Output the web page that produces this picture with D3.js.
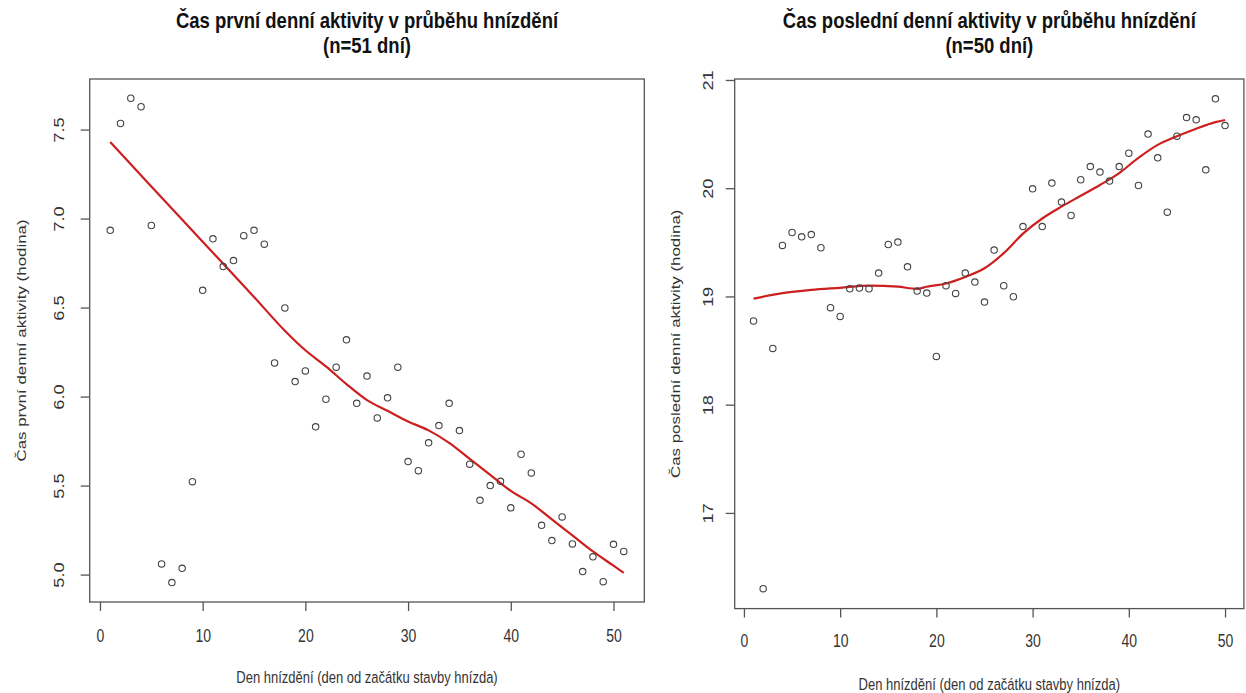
<!DOCTYPE html>
<html><head><meta charset="utf-8">
<script src="https://cdn.jsdelivr.net/npm/d3@7"></script>
<style>
html,body{margin:0;padding:0;background:#fff;}
svg{display:block;font-family:"Liberation Sans",Arial,sans-serif;}
</style></head>
<body><svg id="c" width="1246" height="693"></svg>
<script>
// ---------- data ----------
const dayA = d3.range(1, 52);
const firstAct = [6.934,7.534,7.676,7.628,6.961,5.060,4.955,5.035,5.522,6.597,
  6.886,6.730,6.764,6.904,6.934,6.856,6.189,6.498,6.084,6.144,
  5.830,5.985,6.165,6.319,5.962,6.115,5.880,5.993,6.165,5.635,
  5.584,5.740,5.837,5.962,5.809,5.620,5.417,5.500,5.524,5.375,
  5.676,5.571,5.277,5.191,5.324,5.172,5.017,5.100,4.960,5.170,5.130];
const smoothA_x = [1,5,10,15,18,20,22,24,26,28,30,32,34,36,38,40,42,44,46,48,50,51];
const smoothA_y = [7.43,7.18,6.87,6.56,6.37,6.26,6.17,6.07,5.98,5.92,5.86,5.81,5.74,5.65,5.56,5.47,5.40,5.31,5.22,5.13,5.05,5.01];

const dayB = d3.range(1, 51);
const lastAct = [18.773,16.30,18.52,19.471,19.591,19.551,19.572,19.450,18.896,18.815,
  19.071,19.078,19.071,19.216,19.480,19.502,19.274,19.050,19.031,18.446,
  19.099,19.028,19.216,19.133,18.948,19.428,19.099,18.997,19.646,19.994,
  19.646,20.047,19.872,19.748,20.078,20.200,20.149,20.066,20.200,20.324,
  20.025,20.500,20.281,19.779,20.481,20.653,20.632,20.170,20.826,20.579];
const smoothB_x = [1,4,7,10,13,16,18,19,21,23,25,27,29,31,33,35,37,39,41,43,45,47,49,50];
const smoothB_y = [18.98,19.03,19.06,19.08,19.10,19.09,19.07,19.09,19.12,19.18,19.26,19.40,19.58,19.72,19.83,19.93,20.03,20.14,20.28,20.40,20.48,20.55,20.61,20.63];

const xTicksA = [0,10,20,30,40,50];
const yTicksA = [5.0,5.5,6.0,6.5,7.0,7.5];
const xTicksB = [0,10,20,30,40,50];
const yTicksB = [17,18,19,20,21];

const titlesA = ["Čas první denní aktivity v průběhu hnízdění","(n=51 dní)"];
const titlesB = ["Čas poslední denní aktivity v průběhu hnízdění","(n=50 dní)"];
const xLabel = "Den hnízdění (den od začátku stavby hnízda)";
const yLabelA = "Čas první denní aktivity (hodina)";
const yLabelB = "Čas poslední denní aktivity (hodina)";

// ---------- drawing ----------
const svg = d3.select("#c");
const axisCol = "#555";
const textCol = "#333";
const S = 1.3;   // vertical stretch of the original picture's lettering

function panel(o) {
  const g = svg.append("g");
  const x = d3.scaleLinear().domain(o.xDom).range([o.left, o.right]);
  const y = d3.scaleLinear().domain(o.yDom).range([o.bottom, o.top]);

  // box
  g.append("rect").attr("x", o.left).attr("y", o.top)
    .attr("width", o.right - o.left).attr("height", o.bottom - o.top)
    .attr("fill", "none").attr("stroke", axisCol).attr("stroke-width", 1.3);

  // x axis
  const xa = g.append("g").attr("transform", `translate(0,${o.bottom})`)
    .call(d3.axisBottom(x).tickValues(o.xTicks).tickSize(9).tickFormat(d3.format("d")));
  xa.select(".domain").remove();
  xa.selectAll("line").attr("stroke", axisCol).attr("stroke-width", 1.3);
  xa.selectAll("text").attr("fill", textCol).style("font-size", "14px")
    .attr("y", 0).attr("dy", null)
    .attr("transform", `translate(0,${o.xTickOff}) scale(1,${S})`);

  // y axis
  const ya = g.append("g").attr("transform", `translate(${o.left},0)`)
    .call(d3.axisLeft(y).tickValues(o.yTicks).tickSize(9).tickFormat(o.yFmt));
  ya.select(".domain").remove();
  ya.selectAll("line").attr("stroke", axisCol).attr("stroke-width", 1.3);
  ya.selectAll("text").attr("fill", textCol).style("font-size", "14px")
    .attr("x", 0).attr("y", 0).attr("dy", null).attr("text-anchor", "middle")
    .attr("transform", `translate(${-o.yLabOff},0) rotate(-90) scale(${S},1)`);

  // smooth line
  const pts = o.sx.map((v, i) => [v, o.sy[i]]);
  g.append("path").datum(pts)
    .attr("d", d3.line().x(d => x(d[0])).y(d => y(d[1])).curve(d3.curveMonotoneX))
    .attr("fill", "none").attr("stroke", "#cc1f1f").attr("stroke-width", 2.2);

  // points
  g.selectAll("circle.p").data(o.xs.map((v, i) => [v, o.ys[i]])).enter()
    .append("circle").attr("class", "p")
    .attr("cx", d => x(d[0])).attr("cy", d => y(d[1])).attr("r", 3.2)
    .attr("fill", "none").attr("stroke", "#444").attr("stroke-width", 1.1);

  // titles
  const cx = (o.left + o.right) / 2;
  [28, 53].forEach((by, i) => {
    g.append("text").attr("transform", `translate(${cx},${by}) scale(1,1.2)`)
      .attr("text-anchor", "middle")
      .style("font-size", "18.5px").style("font-weight", "bold").attr("fill", "#111")
      .text(o.titles[i]);
  });

  // axis labels
  g.append("text").attr("transform", `translate(${cx},${o.xLabY}) scale(1,${S})`)
    .attr("text-anchor", "middle")
    .style("font-size", "13px").attr("fill", textCol).text(xLabel);
  g.append("text")
    .attr("transform", `translate(${o.yLabX},${(o.top + o.bottom) / 2}) rotate(-90) scale(${S},1)`)
    .attr("text-anchor", "middle").style("font-size", "13px").attr("fill", textCol).text(o.yLabel);
}

panel({
  left: 89.7, right: 644.3, top: 79, bottom: 602,
  xDom: [-1, 53], yDom: [4.846, 7.784],
  xTicks: xTicksA, yTicks: yTicksA, yFmt: d3.format(".1f"), yLabOff: 26,
  xTickOff: 40, xs: dayA, ys: firstAct, sx: smoothA_x, sy: smoothA_y,
  titles: titlesA, xLabY: 683, yLabX: 26, yLabel: yLabelA
});

panel({
  left: 734.7, right: 1243.9, top: 79, bottom: 608.6,
  xDom: [-0.96, 51.96], yDom: [16.116, 21.009],
  xTicks: xTicksB, yTicks: yTicksB, yFmt: d3.format("d"), yLabOff: 22,
  xTickOff: 38, xs: dayB, ys: lastAct, sx: smoothB_x, sy: smoothB_y,
  titles: titlesB, xLabY: 690, yLabX: 680, yLabel: yLabelB
});
</script></body></html>
